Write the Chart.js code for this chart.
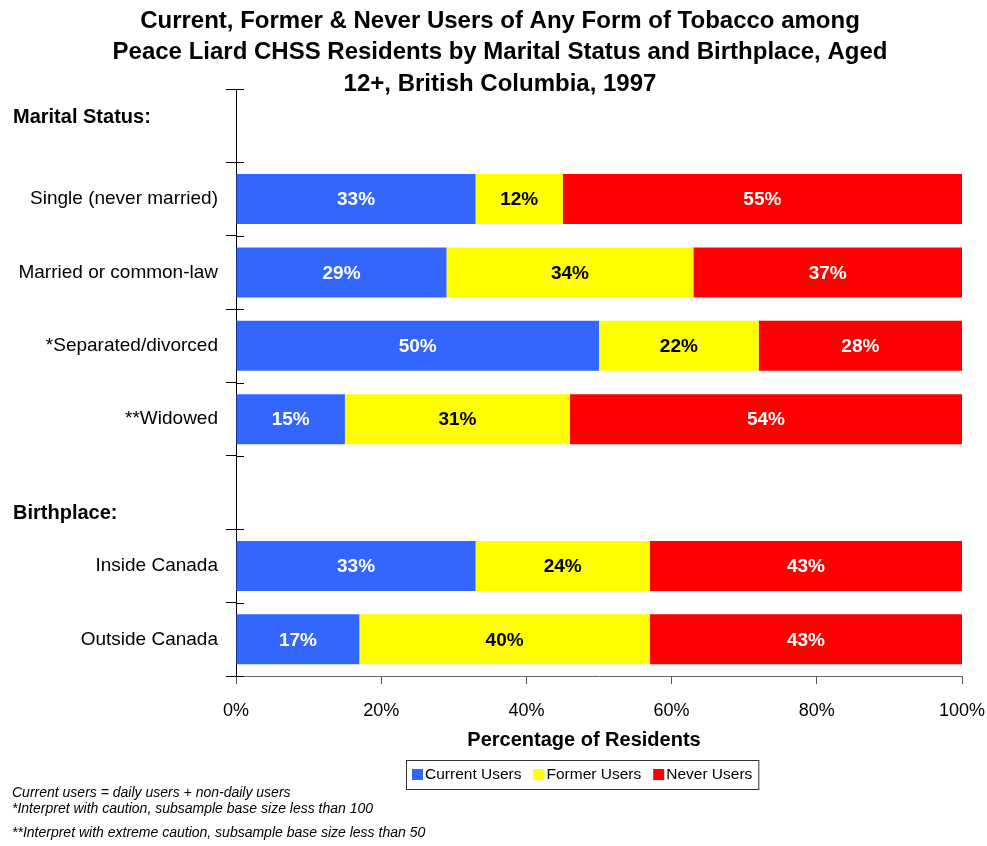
<!DOCTYPE html>
<html lang="en">
<head>
    <meta charset="UTF-8">
    <title>Tobacco Use by Marital Status and Birthplace</title>
    <script src="https://cdn.jsdelivr.net/npm/chart.js"></script>
    <style>
        body {
            margin: 0;
            padding: 0;
            background-color: #ffffff;
        }

        .chart-container {
            position: relative;
            width: 987px;
            height: 846px;
        }
    </style>
</head>
<body>

    <div class="chart-container">
        <canvas id="tobaccoChart"></canvas>
    </div>

    <script>
        // Rows of the chart (blank rows hold the group headers)
        const categories = ['', 'Single (never married)', 'Married or common-law', '*Separated/divorced',
            '**Widowed', '', 'Inside Canada', 'Outside Canada'];
        const groupHeaders = ['Marital Status:', 'Birthplace:'];

        const currentUsers = [null, 33, 29, 50, 15, null, 33, 17];
        const formerUsers = [null, 12, 34, 22, 31, null, 24, 40];
        const neverUsers = [null, 55, 37, 28, 54, null, 43, 43];

        const titleLines = [
            'Current, Former & Never Users of Any Form of Tobacco among',
            'Peace Liard CHSS Residents by Marital Status and Birthplace, Aged',
            '12+, British Columbia, 1997'
        ];
        const xAxisTitle = 'Percentage of Residents';
        const footnotes = [
            'Current users = daily users + non-daily users',
            '*Interpret with caution, subsample base size less than 100',
            '**Interpret with extreme caution, subsample base size less than 50'
        ];

        const FONT = "'Liberation Sans', Arial, sans-serif";

        // Title, headers, footnotes, legend, bar labels and axis crossing ticks
        const decorPlugin = {
            id: 'decor',
            afterDatasetsDraw(chart) {
                const ctx = chart.ctx;
                ctx.save();
                ctx.font = 'bold 19px ' + FONT;
                ctx.textAlign = 'center';
                ctx.textBaseline = 'middle';
                chart.data.datasets.forEach((ds, di) => {
                    const meta = chart.getDatasetMeta(di);
                    meta.data.forEach((bar, i) => {
                        const v = ds.data[i];
                        if (v == null) return;
                        ctx.fillStyle = ds.labelColor;
                        ctx.fillText(v + '%', (bar.x + bar.base) / 2, bar.y + 1);
                    });
                });
                ctx.restore();
            },
            afterDraw(chart) {
                const ctx = chart.ctx;
                const area = chart.chartArea;
                const y = chart.scales.y;
                ctx.save();

                // title
                ctx.fillStyle = '#000';
                ctx.font = 'bold 24px ' + FONT;
                ctx.textAlign = 'center';
                ctx.textBaseline = 'middle';
                titleLines.forEach((line, i) => ctx.fillText(line, 500, 21 + i * 31.5));

                // x axis title
                ctx.font = 'bold 20px ' + FONT;
                ctx.fillText(xAxisTitle, 584, 740);

                // crossing ticks on the y axis (right side)
                const step = y.height / categories.length;
                ctx.strokeStyle = '#000';
                ctx.lineWidth = 1;
                for (let i = 0; i <= categories.length; i++) {
                    const py = Math.round(y.top + i * step) + 0.5;
                    ctx.beginPath();
                    ctx.moveTo(area.left, py);
                    ctx.lineTo(area.left + 8, py);
                    ctx.stroke();
                }

                // group headers
                ctx.font = 'bold 20px ' + FONT;
                ctx.textAlign = 'left';
                ctx.fillText(groupHeaders[0], 13, y.getPixelForValue(0) - 8);
                ctx.fillText(groupHeaders[1], 13, y.getPixelForValue(5) + 21);

                // footnotes
                ctx.font = 'italic 14px ' + FONT;
                ctx.fillText(footnotes[0], 12, 793);
                ctx.fillText(footnotes[1], 12, 809);
                ctx.fillText(footnotes[2], 12, 833);

                // legend
                ctx.font = '15.5px ' + FONT;
                let lx = 412;
                const ly = 774;
                const items = chart.data.datasets;
                const gap = 12;
                let totalW = 0;
                items.forEach(ds => { totalW += 13 + ctx.measureText(ds.label).width; });
                totalW += gap * (items.length - 1);
                ctx.strokeStyle = '#333';
                ctx.strokeRect(406.5, 760.5, totalW + 12, 29);
                items.forEach(ds => {
                    ctx.fillStyle = ds.backgroundColor;
                    ctx.fillRect(lx, ly - 5, 11, 11);
                    ctx.fillStyle = '#000';
                    ctx.fillText(ds.label, lx + 13, ly + 1);
                    lx += 13 + ctx.measureText(ds.label).width + gap;
                });

                ctx.restore();
            }
        };

        const ctx = document.getElementById('tobaccoChart').getContext('2d');
        new Chart(ctx, {
            type: 'bar',
            data: {
                labels: categories,
                datasets: [
                    { label: 'Current Users', data: currentUsers, backgroundColor: '#3366FF', labelColor: '#ffffff' },
                    { label: 'Former Users', data: formerUsers, backgroundColor: '#FFFF00', labelColor: '#000000' },
                    { label: 'Never Users', data: neverUsers, backgroundColor: '#FF0000', labelColor: '#ffffff' }
                ]
            },
            options: {
                indexAxis: 'y',
                responsive: true,
                maintainAspectRatio: false,
                animation: false,
                categoryPercentage: 1,
                barPercentage: 0.68,
                layout: {
                    padding: { top: 89, right: 25, bottom: 95, left: 0 }
                },
                scales: {
                    x: {
                        stacked: true,
                        min: 0,
                        max: 100,
                        afterFit(scale) {
                            scale.height = 75;
                            scale.paddingRight = 0;
                            scale.paddingLeft = 0;
                        },
                        ticks: {
                            stepSize: 20,
                            color: '#000',
                            padding: 16,
                            font: { family: FONT, size: 18 },
                            callback: v => v + '%'
                        },
                        grid: {
                            drawOnChartArea: false,
                            drawTicks: true,
                            tickLength: 8,
                            color: '#555'
                        },
                        border: { display: true, color: '#666' }
                    },
                    y: {
                        stacked: true,
                        afterFit(scale) { scale.width = 236; },
                        ticks: {
                            color: '#000',
                            padding: 8,
                            font: { family: FONT, size: 19 }
                        },
                        grid: {
                            drawOnChartArea: false,
                            drawTicks: true,
                            tickLength: 10,
                            color: '#000',
                            offset: true
                        },
                        border: { display: true, color: '#000' }
                    }
                },
                plugins: {
                    legend: { display: false },
                    tooltip: { enabled: false }
                }
            },
            plugins: [decorPlugin]
        });
    </script>

</body>
</html>
